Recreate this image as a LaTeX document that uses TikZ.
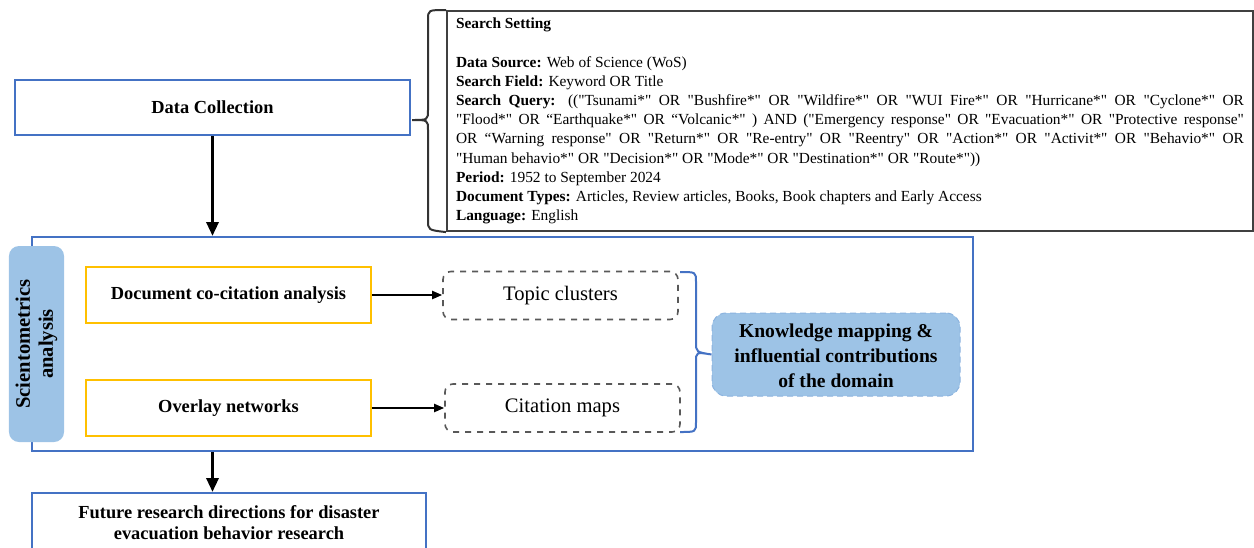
\documentclass[tikz,border=0pt]{standalone}
\usepackage{fontspec}
\setmainfont{Liberation Serif}
\usetikzlibrary{arrows.meta, positioning}

\definecolor{boxblue}{HTML}{4472C4}
\definecolor{boxgold}{HTML}{FFC000}
\definecolor{tabblue}{HTML}{9DC3E6}
\definecolor{dashgray}{HTML}{595959}

% gerades Anfuehrungszeichen (ohne tex-text Mapping)
\newcommand{\dq}{\XeTeXglyph\XeTeXcharglyph"22\relax}

\begin{document}
\begin{tikzpicture}[x=0.5pt, y=-0.5pt]

	% Stile
	\tikzset{
		mainfont/.style={font=\fontsize{9.2pt}{10.5pt}\selectfont\bfseries},
		bluebox/.style={draw=boxblue, line width=1pt, mainfont, align=center},
		goldbox/.style={draw=boxgold, line width=1pt, mainfont, minimum width=142.5pt, minimum height=28pt},
		dashbox/.style={draw=dashgray, dashed, line width=0.8pt, rounded corners=4pt, minimum width=117.5pt, minimum height=24pt, font=\fontsize{10.3pt}{12pt}\selectfont},
		bigarrow/.style={line width=1.6pt, -{Triangle[length=7pt, width=6pt]}},
		smallarrow/.style={line width=1pt, -{Triangle[length=5pt, width=4pt]}},
		bracket/.style={line width=1pt}
	}

	\clip (0,0) rectangle (1254,547);

	% Datensammlung
	\node[bluebox, minimum width=197.5pt, minimum height=27.5pt] (collect) at (212.5,107.5) {Data Collection};

	% Suchparameter
	\node[draw=black!75, line width=1pt, anchor=north west, inner xsep=4.5pt, inner ysep=3.5pt,
		text width=394pt, align=justify, minimum height=110pt,
		font=\fontsize{7.7pt}{9.6pt}\selectfont] (search) at (446,10) {%
		\hyphenpenalty=10000 \exhyphenpenalty=10000 \tolerance=9999
		\textbf{Search Setting}\\[9.6pt]
		\textbf{Data Source:} Web of Science (WoS)\\
		\textbf{Search Field:} Keyword OR Title\\
		\textbf{Search Query:} ((\dq Tsunami*\dq{} OR \dq Bushfire*\dq{} OR \dq Wildfire*\dq{} OR \dq WUI Fire*\dq{} OR \dq Hurricane*\dq{} OR \dq Cyclone*\dq{} OR \linebreak
		\dq Flood*\dq{} OR “Earthquake*\dq{} OR “Volcanic*\dq{} ) AND (\dq Emergency response\dq{} OR \dq Evacuation*\dq{} OR \dq Protective response\dq{} \linebreak
		OR “Warning response\dq{} OR \dq Return*\dq{} OR \dq Re-entry\dq{} OR \dq Reentry\dq{} OR \dq Action*\dq{} OR \dq Activit*\dq{} OR \dq Behavio*\dq{} OR \linebreak
		\dq Human behavio*\dq{} OR \dq Decision*\dq{} OR \dq Mode*\dq{} OR \dq Destination*\dq{} OR \dq Route*\dq))\\
		\textbf{Period:} 1952 to September 2024\\
		\textbf{Document Types:} Articles, Review articles, Books, Book chapters and Early Access\\
		\textbf{Language:} English};

	% Klammer links
	\draw[bracket, black!80] (search.north west) .. controls (428,10) .. (428,20) -- (428,110)
		.. controls (428,120) .. (412,120) .. controls (428,120) .. (428,130) -- (428,220)
		.. controls (428,230) .. (search.south west);

	% Szientometrie
	\node[draw=boxblue, line width=1pt, minimum width=470.5pt, minimum height=107pt] (scimain) at (502.5,344) {};
	\node[fill=tabblue, rounded corners=5pt, rotate=90, minimum width=98pt, minimum height=26.5pt,
		align=center, font=\fontsize{10.3pt}{11.5pt}\selectfont\bfseries] (scitab) at (36.5,344) {Scientometrics\\analysis};

	\node[goldbox] (cocite) at (228.5,295) {Document co-citation analysis};
	\node[goldbox] (overlay) at (228.5,408) {Overlay networks};

	\node[dashbox] (topic) at (560.5,295.5) {Topic clusters};
	\node[dashbox] (citemap) at (562.5,408) {Citation maps};

	\node[fill=tabblue, draw=tabblue!80!boxblue, densely dashed, line width=0.5pt, rounded corners=7pt,
		minimum width=124pt, minimum height=41.5pt, align=center,
		font=\fontsize{9.8pt}{12.5pt}\selectfont\bfseries] (knowledge) at (836,354.5)
		{\rule{0pt}{8pt}Knowledge mapping \&\\influential contributions\\of the domain};

	% Klammer rechts
	\draw[bracket, boxblue] (680,272) .. controls (696,272) .. (696,282) -- (696,342)
		.. controls (696,352) .. (knowledge.west) .. controls (696,352) .. (696,362) -- (696,422)
		.. controls (696,432) .. (680,432);

	% Ausblick
	\node[bluebox, minimum width=197pt, minimum height=30pt] (future) at (229,523)
		{Future research directions for disaster\\evacuation behavior research};

	% Pfeile
	\draw[bigarrow] (collect.south) -- (collect.south |- scimain.north);
	\draw[bigarrow] (collect.south |- scimain.south) -- (collect.south |- future.north);
	\draw[smallarrow] (cocite.east) -- (cocite.east -| topic.west);
	\draw[smallarrow] (overlay.east) -- (overlay.east -| citemap.west);

\end{tikzpicture}
\end{document}
